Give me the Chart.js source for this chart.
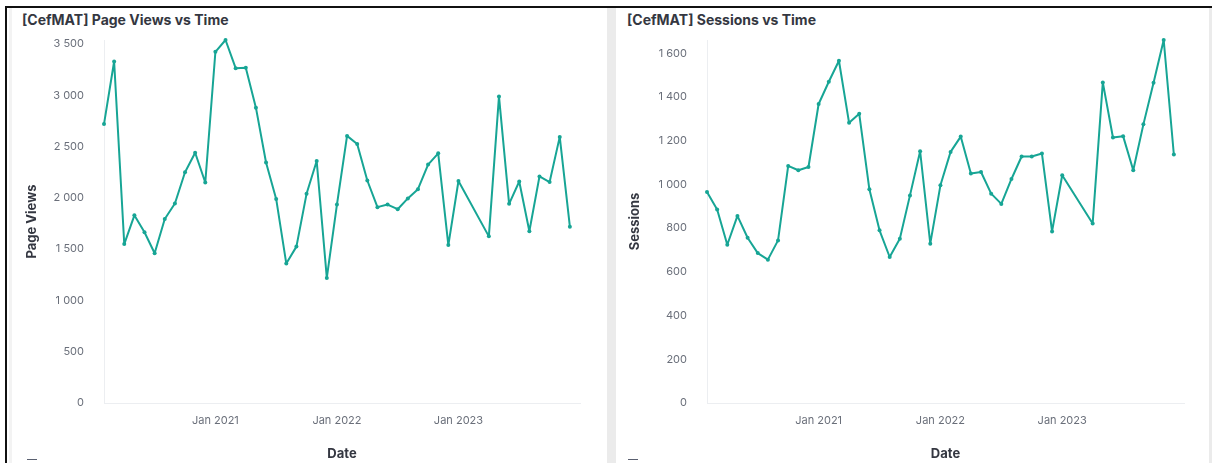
<!DOCTYPE html>
<html>
<head>
<meta charset="utf-8">
<script src="https://cdn.jsdelivr.net/npm/chart.js@4.4.1/dist/chart.umd.min.js"></script>
<style>
  body { margin: 0; background: #fff; width: 1212px; height: 463px; overflow: hidden; position: relative; font-family: Inter, sans-serif; }
  .frame { position: absolute; left: 5px; top: 6px; width: 1220px; height: 470px; border-left: 2px solid #111; border-top: 2px solid #111; background: #fff; }
  .gutter { position: absolute; top: 8px; height: 460px; background: #ebebeb; }
  .strip { position: absolute; top: 8px; height: 460px; background: #f3f3f3; }
  .title { position: absolute; top: 11px; font: 700 14px/17px Inter, sans-serif; color: #343741; white-space: nowrap; }
  canvas { position: absolute; top: 8px; }
  .icon { position: absolute; top: 459px; width: 10px; height: 2px; border-top: 1px solid #5a6070; }
</style>
</head>
<body>
<div class="frame"></div>
<div class="strip" style="left:9px;width:3px"></div>
<div class="gutter" style="left:607px;width:9px"></div>
<div class="gutter" style="left:1209px;width:3px"></div>
<div class="title" style="left:22px">[CefMAT] Page Views vs Time</div>
<div class="title" style="left:627px">[CefMAT] Sessions vs Time</div>
<canvas id="viewsChart" width="597" height="455" style="left:9px"></canvas>
<canvas id="sessionsChart" width="593" height="455" style="left:616px"></canvas>
<div class="icon" style="left:27px"></div>
<div class="icon" style="left:628px"></div>
<script>
// Monthly buckets (Feb and Mar 2023 have no data)
const months = [
  '2020-02', '2020-03', '2020-04', '2020-05', '2020-06', '2020-07', '2020-08', '2020-09', '2020-10', '2020-11', '2020-12',
  '2021-01', '2021-02', '2021-03', '2021-04', '2021-05', '2021-06', '2021-07', '2021-08', '2021-09', '2021-10', '2021-11', '2021-12',
  '2022-01', '2022-02', '2022-03', '2022-04', '2022-05', '2022-06', '2022-07', '2022-08', '2022-09', '2022-10', '2022-11', '2022-12',
  '2023-01', '2023-04', '2023-05', '2023-06', '2023-07', '2023-08', '2023-09', '2023-10', '2023-11', '2023-12'
];

const pageViews = [
  2720, 3330, 1550, 1830, 1665, 1460, 1795, 1945, 2250, 2440, 2150,
  3425, 3540, 3265, 3270, 2880, 2345, 1990, 1360, 1525, 2040, 2360, 1220,
  1935, 2605, 2525, 2170, 1910, 1935, 1890, 1995, 2085, 2325, 2435, 1540,
  2165, 1625, 2990, 1942, 2160, 1675, 2210, 2155, 2595, 1720
];

const sessions = [
  965, 885, 724, 856, 756, 686, 656, 744, 1085, 1065, 1080,
  1368, 1470, 1566, 1282, 1323, 978, 790, 668, 752, 950, 1152, 729,
  996, 1149, 1219, 1050, 1057, 958, 911, 1025, 1128, 1128, 1142, 785,
  1042, 821, 1467, 1215, 1221, 1065, 1275, 1465, 1661, 1137
];

const xTickMonths = ['2021-01', '2022-01', '2023-01'];
const xTickLabels = ['Jan 2021', 'Jan 2022', 'Jan 2023'];
const xRange = ['2020-02', '2024-01'];

const lineColor = '#17a595';
const tickColor = '#6a6f7a';
const textColor = '#343741';

Chart.defaults.font.family = 'Inter, sans-serif';

// months since Jan 2020, used as the linear x value
function monthIndex(m) {
  const [y, mo] = m.split('-').map(Number);
  return (y - 2020) * 12 + (mo - 1);
}

function spaced(v) {
  return String(v).replace(/\B(?=(\d{3})+(?!\d))/g, ' ');
}

function makeChart(id, values, yTitle, step, yWidth, yTitlePad, rightPad) {
  const points = months.map((m, i) => ({ x: monthIndex(m), y: values[i] }));
  const tickValues = xTickMonths.map(monthIndex);
  const yMax = Math.max(...values);
  return new Chart(document.getElementById(id), {
    type: 'line',
    data: {
      datasets: [{
        data: points,
        borderColor: lineColor,
        backgroundColor: lineColor,
        borderWidth: 2,
        borderJoinStyle: 'round',
        pointRadius: 2,
        pointBorderWidth: 0,
        tension: 0,
        clip: false
      }]
    },
    options: {
      responsive: false,
      animation: false,
      layout: { padding: { top: 32, right: rightPad, left: 0, bottom: 0 } },
      plugins: { legend: { display: false }, tooltip: { enabled: false } },
      scales: {
        x: {
          type: 'linear',
          min: monthIndex(xRange[0]),
          max: monthIndex(xRange[1]),
          grid: { display: false },
          border: { color: '#eceef1' },
          afterBuildTicks: (scale) => { scale.ticks = tickValues.map(v => ({ value: v })); },
          afterFit: (scale) => { scale.height = 60; },
          ticks: {
            autoSkip: false,
            maxRotation: 0,
            padding: 3,
            color: tickColor,
            font: { size: 11 },
            callback: (v) => xTickLabels[tickValues.indexOf(v)]
          },
          title: {
            display: true,
            text: 'Date',
            color: textColor,
            font: { size: 13, weight: 'bold' },
            padding: { top: 0, bottom: 1 }
          }
        },
        y: {
          min: 0,
          max: yMax,
          grid: { display: false },
          border: { color: '#eceef1' },
          afterBuildTicks: (scale) => {
            const ticks = [];
            for (let v = 0; v <= yMax; v += step) ticks.push({ value: v });
            scale.ticks = ticks;
          },
          afterFit: (scale) => { scale.width = yWidth; },
          ticks: {
            padding: 12,
            color: tickColor,
            font: { size: 11 },
            callback: (v) => spaced(v)
          },
          title: {
            display: true,
            text: yTitle,
            color: textColor,
            font: { size: 13, weight: 'bold' },
            padding: { top: yTitlePad, bottom: 0 }
          }
        }
      }
    }
  });
}

makeChart('viewsChart', pageViews, 'Page Views', 500, 95, 15, 26);
makeChart('sessionsChart', sessions, 'Sessions', 200, 91, 11, 25);
</script>
</body>
</html>
